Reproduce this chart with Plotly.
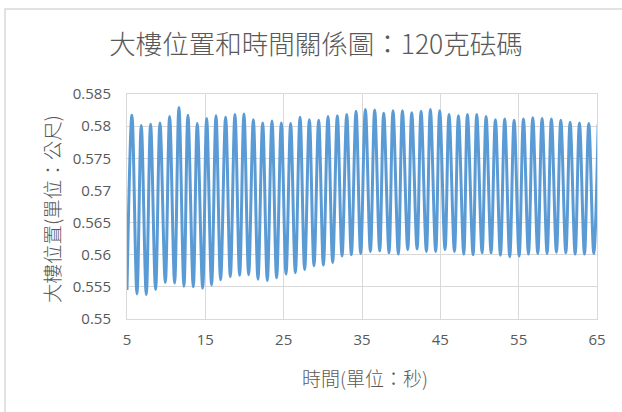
import plotly.graph_objects as go

# Trough (valley) readings: time (s) and position (m)
trough_t = [5.00, 6.27, 7.46, 8.65, 9.89, 11.08, 12.27, 13.46, 14.66, 15.80, 16.95, 18.19, 19.38, 20.53,
            21.72, 22.91, 24.10, 25.30, 26.49, 27.68, 28.87, 30.07, 31.26, 32.45, 33.64, 34.83,
            36.07, 37.26, 38.45, 39.64, 40.84, 42.03, 43.22, 44.41, 45.60, 46.80, 47.99, 49.18, 50.33,
            51.48, 52.67, 53.86, 55.06, 56.25, 57.44, 58.63, 59.82, 61.02, 62.21, 63.40, 64.59]
trough_y = [0.5545, 0.5539, 0.5538, 0.5546, 0.5557, 0.5556, 0.5551, 0.5550, 0.5548, 0.5553, 0.5561, 0.5566, 0.5568, 0.5569,
            0.5562, 0.5560, 0.5564, 0.5570, 0.5572, 0.5577, 0.5583, 0.5584, 0.5588, 0.5598, 0.5600, 0.5602,
            0.5605, 0.5606, 0.5603, 0.5601, 0.5608, 0.5609, 0.5605, 0.5605, 0.5608, 0.5605, 0.5601, 0.5600, 0.5603,
            0.5603, 0.5599, 0.5597, 0.5598, 0.5601, 0.5602, 0.5602, 0.5604, 0.5603, 0.5601, 0.5601, 0.5602]

# Peak readings: time (s) and position (m)
peak_t = [5.63, 6.82, 8.01, 9.21, 10.44, 11.63, 12.78, 13.97, 15.17, 16.36, 17.59, 18.78, 19.93,
          21.13, 22.32, 23.51, 24.70, 25.89, 27.09, 28.28, 29.47, 30.66, 31.85, 33.05, 34.24, 35.43,
          36.62, 37.77, 38.96, 40.16, 41.35, 42.54, 43.73, 44.92, 46.11, 47.31, 48.46, 49.65, 50.84,
          52.03, 53.22, 54.42, 55.61, 56.80, 57.99, 59.18, 60.38, 61.57, 62.76, 63.95, 65.15]
peak_y = [0.5817, 0.5801, 0.5803, 0.5805, 0.5815, 0.5829, 0.5817, 0.5804, 0.5812, 0.5816, 0.5814, 0.5818, 0.5819,
          0.5810, 0.5805, 0.5808, 0.5805, 0.5804, 0.5814, 0.5810, 0.5809, 0.5815, 0.5816, 0.5818, 0.5823, 0.5826,
          0.5825, 0.5820, 0.5824, 0.5824, 0.5821, 0.5823, 0.5826, 0.5824, 0.5818, 0.5816, 0.5818, 0.5818, 0.5815,
          0.5810, 0.5811, 0.5809, 0.5811, 0.5813, 0.5812, 0.5811, 0.5809, 0.5806, 0.5805, 0.5804, 0.5803]

x_ticks = [5, 15, 25, 35, 45, 55, 65]
x_ticktext = ["5", "15", "25", "35", "45", "55", "65"]
y_ticks = [0.55, 0.555, 0.56, 0.565, 0.57, 0.575, 0.58, 0.585]
y_ticktext = ["0.55", "0.555", "0.56", "0.565", "0.57", "0.575", "0.58", "0.585"]

title_text = "大樓位置和時間關係圖：120克砝碼"
x_title = "時間(單位：秒)"
y_title = "大樓位置(單位：公尺)"

# interleave troughs and peaks in time order
pts = sorted(list(zip(trough_t, trough_y)) + list(zip(peak_t, peak_y)))
t = [p[0] for p in pts]
y = [p[1] for p in pts]

GRID = "#D9D9D9"
TXT = "#595959"
CJK = "Noto Sans CJK TC"
NUM = "Open Sans, Noto Sans CJK TC"

fig = go.Figure()
fig.add_trace(go.Scatter(x=t, y=y, mode="lines",
                         line=dict(color="#5B9BD5", width=3, shape="spline", smoothing=1.0),
                         showlegend=False, hoverinfo="skip"))

W, H = 622, 412
L, R, T, B = 127, 25, 94, 93
pw, ph = W - L - R, H - T - B

def px2paper(px, py):
    return (px - L) / pw, (H - B - py) / ph

fig.update_layout(
    width=W, height=H,
    margin=dict(l=L, r=R, t=T, b=B),
    paper_bgcolor="white", plot_bgcolor="white",
    title=dict(text=title_text, x=316 / W, xref="container", xanchor="center",
               y=1 - 45 / H, yref="container", yanchor="middle",
               font=dict(family=CJK, size=26.5, color=TXT, weight=300)),
    xaxis=dict(range=[5, 65], tickvals=x_ticks, ticktext=x_ticktext,
               showgrid=True, gridcolor=GRID, gridwidth=1,
               showline=True, linecolor=GRID, linewidth=1, mirror=True,
               zeroline=False, ticks="outside", ticklen=7, tickcolor="rgba(0,0,0,0)",
               tickfont=dict(family=NUM, size=15, color=TXT)),
    yaxis=dict(range=[0.55, 0.585], tickvals=y_ticks, ticktext=y_ticktext,
               showgrid=True, gridcolor=GRID, gridwidth=1,
               showline=True, linecolor=GRID, linewidth=1, mirror=True,
               zeroline=False, ticks="outside", ticklen=12, tickcolor="rgba(0,0,0,0)",
               tickfont=dict(family=NUM, size=15, color=TXT)),
)

ax, ay = px2paper(365, 377)
fig.add_annotation(text=x_title, xref="paper", yref="paper", x=ax, y=ay,
                   xanchor="center", yanchor="middle", showarrow=False,
                   font=dict(family=CJK, size=19, color=TXT, weight=300))
bx, by = px2paper(51, 209)
fig.add_annotation(text=y_title, xref="paper", yref="paper", x=bx, y=by, textangle=-90,
                   xanchor="center", yanchor="middle", showarrow=False,
                   font=dict(family=CJK, size=19.5, color=TXT, weight=300))

# outer chart border
x0, y0 = px2paper(5, 9)
x1, y1 = px2paper(640, 430)
fig.add_shape(type="rect", xref="paper", yref="paper", x0=x0, y0=y1, x1=x1, y1=y0,
              line=dict(color=GRID, width=1.5), fillcolor="rgba(0,0,0,0)", layer="below")

fig.write_html("out.html")
